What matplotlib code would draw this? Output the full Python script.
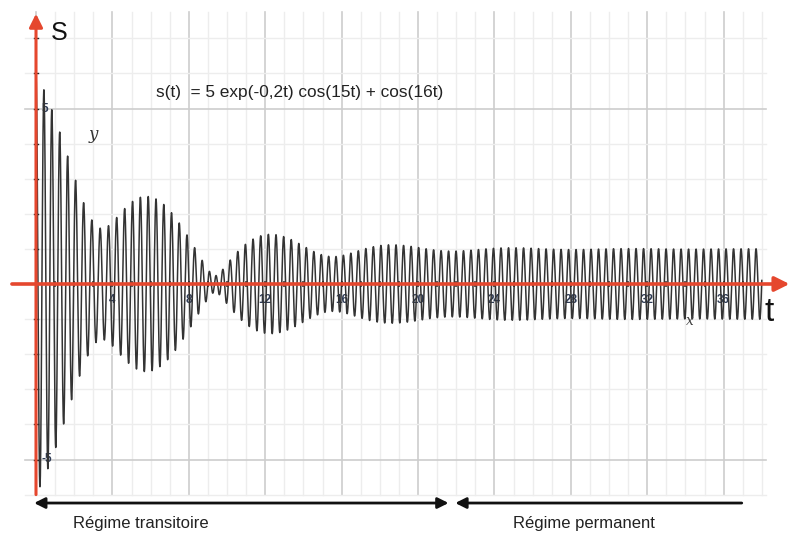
import numpy as np
import matplotlib
matplotlib.use("Agg")
import matplotlib.pyplot as plt

# s(t) = 5 exp(-0,2t) cos(15t) + cos(16t), terms
amplitudes = [5.0, 1.0]
decays = [0.2, 0.0]
pulsations = [15.0, 16.0]
t_end = 38.0

x_ticks = [4, 8, 12, 16, 20, 24, 28, 32, 36]
y_ticks = [5, -5]
y_tick_labels = ["5", "-5"]

red = "#e5472e"
ink = "#333333"
sans = ["Liberation Sans", "DejaVu Sans"]

t = np.linspace(0, t_end, 6000)
s = np.zeros_like(t)
for a, d, w in zip(amplitudes, decays, pulsations):
    s += a * np.exp(-d * t) * np.cos(w * t)

fig = plt.figure(figsize=(7.92, 5.36), dpi=100)
ax = fig.add_axes([0, 0, 1, 1])
ax.set_axis_off()

# pixel mapping: x = 36 + 19.1 t ; y = 284 - 35.1 s
ax.set_xlim(-36 / 19.1, (792 - 36) / 19.1)
ax.set_ylim((284 - 536) / 35.1, 284 / 35.1)

# grid
g_top, g_bot = 7.75, -6.0
for k in range(0, 39):
    major = k % 4 == 0
    ax.plot([k, k], [g_bot, g_top], color="#cdcdcd" if major else "#ededed",
            lw=1.2 if major else 1.0, zorder=1)
for k in range(-6, 8):
    major = k % 5 == 0
    ax.plot([-0.6, 38.2], [k, k], color="#cdcdcd" if major else "#ededed",
            lw=1.2 if major else 1.0, zorder=1)

# tick labels
for xt in x_ticks:
    ax.text(xt, -0.45, str(xt), ha="center", va="center", fontsize=8.5,
            color="#2e3b55", fontweight="bold", family=sans, zorder=2)
for yt, lab in zip(y_ticks, y_tick_labels):
    ax.text(0.3, yt, lab, ha="left", va="center", fontsize=8.5,
            color="#2e3b55", fontweight="bold", family=sans, zorder=2)

# small ticks on axes
for k in range(1, 38):
    ax.plot([k, k], [-0.06, 0.06], color="#222222", lw=1.2, zorder=4)
for k in range(-5, 8):
    if k != 0:
        ax.plot([-0.1, 0.1], [k, k], color="#222222", lw=1.0, zorder=2)

ax.plot(t, s, color=ink, lw=1.1, zorder=3)

# red axes
ax.annotate("", xy=(39.45, 0), xytext=(-1.26, 0),
            arrowprops=dict(arrowstyle="-|>", color=red, lw=2.6,
                            mutation_scale=22, shrinkA=0, shrinkB=0), zorder=5)
ax.annotate("", xy=(0, 7.7), xytext=(0, -6.0),
            arrowprops=dict(arrowstyle="-|>", color=red, lw=2.2,
                            mutation_scale=20, shrinkA=0, shrinkB=0), zorder=5)

ax.text(0.8, 7.15, "S", fontsize=18, ha="left", va="center", color="#111111",
        family=sans)
ax.text(38.15, -0.8, "t", fontsize=24, ha="left", va="center", color="#111111",
        family=sans)
ax.text(2.75, 4.25, "y", fontsize=12, ha="left", va="center", color="#333333",
        family="DejaVu Serif", style="italic")
ax.text(34.05, -1.05, "x", fontsize=10, ha="left", va="center", color="#444444",
        family="DejaVu Serif", style="italic")
ax.text(6.3, 5.47, "s(t)  = 5 exp(-0,2t) cos(15t) + cos(16t)", fontsize=12.4,
        ha="left", va="center", color="#222222", family=sans)

# regime arrows
ax.annotate("", xy=(-0.1, -6.24), xytext=(21.6, -6.24),
            arrowprops=dict(arrowstyle="<|-|>", color="#111111", lw=2.0,
                            mutation_scale=16, shrinkA=0, shrinkB=0))
ax.annotate("", xy=(21.95, -6.24), xytext=(36.95, -6.24),
            arrowprops=dict(arrowstyle="-|>", color="#111111", lw=2.0,
                            mutation_scale=16, shrinkA=0, shrinkB=0))
ax.text(5.5, -6.82, "Régime transitoire", fontsize=12, ha="center", va="center",
        color="#222222", family=sans)
ax.text(28.7, -6.82, "Régime permanent", fontsize=12, ha="center", va="center",
        color="#222222", family=sans)

fig.savefig("out.png", dpi=100)
